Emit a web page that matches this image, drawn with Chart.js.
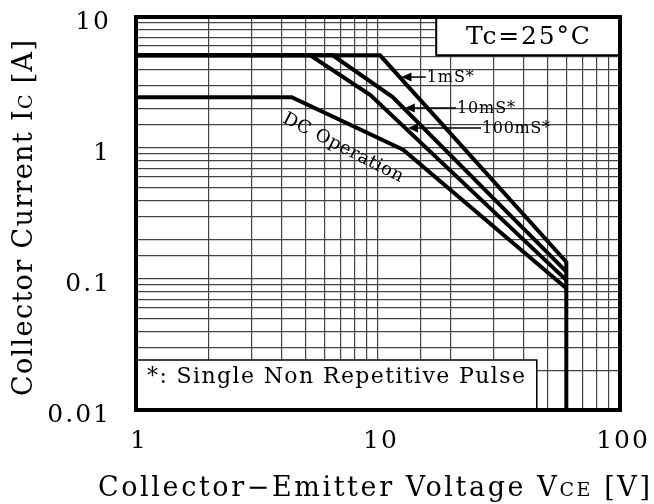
<!DOCTYPE html>
<html>
<head>
<meta charset="utf-8">
<script src="https://cdn.jsdelivr.net/npm/chart.js@4.4.1/dist/chart.umd.min.js"></script>
<style>
  html, body { margin: 0; padding: 0; background: #fff; }
  canvas { display: block; }
</style>
</head>
<body>
<canvas id="soa" width="654" height="504"></canvas>
<script>
const FONT = '"DejaVu Serif", "Liberation Serif", serif';

/* axis ticks */
const xTicks = [1, 10, 100];
const yTicks = [0.01, 0.1, 1, 10];

/* safe operating area curves (VCE in V, IC in A) */
const vce1ms = [1, 10.2, 60, 60];
const ic1ms = [5.1, 5.1, 0.135, 0.01];
const vce10ms = [1, 6.5, 11.5, 60];
const ic10ms = [5.1, 5.1, 2.45, 0.114];
const vce100ms = [1, 5.25, 9.3, 60];
const ic100ms = [5.1, 5.1, 2.54, 0.098];
const vceDC = [1, 4.4, 12.7, 60];
const icDC = [2.44, 2.44, 0.97, 0.085];

const seriesNames = ["1mS*", "10mS*", "100mS*", "DC Operation"];

function pts(xs, ys) {
  return xs.map((x, i) => ({ x: x, y: ys[i] }));
}

/* pulse labels: arrow tip and text start, in chart units */
const pulseNotes = [
  { text: "1mS*", tip: [12.5, 3.48], textX: 15.9, w: 47 },
  { text: "10mS*", tip: [12.9, 2.02], textX: 21.2, w: 58 },
  { text: "100mS*", tip: [13.3, 1.42], textX: 26.9, w: 68 }
];

/* draw text runs, letter spacing given or stretched to a width */
function runs(ctx, parts, x, y, width, spacing) {
  let natural = 0, count = 0;
  parts.forEach(p => {
    ctx.font = p[1] + "px " + FONT;
    ctx.letterSpacing = "0px";
    natural += ctx.measureText(p[0]).width;
    count += p[0].length;
  });
  const ls = width ? (width - natural) / (count - 1) : (spacing || 0);
  let cx = x;
  parts.forEach(p => {
    ctx.font = p[1] + "px " + FONT;
    ctx.letterSpacing = "0px";
    const w = ctx.measureText(p[0]).width;
    ctx.letterSpacing = ls + "px";
    ctx.fillText(p[0], cx, y);
    cx += w + ls * p[0].length;
  });
  ctx.letterSpacing = "0px";
}

function label(ctx, text, size, x, y, width, align, spacing) {
  ctx.font = size + "px " + FONT;
  ctx.letterSpacing = "0px";
  const sp = spacing || 0;
  const w = width || (ctx.measureText(text).width + sp * (text.length - 1));
  let x0 = x;
  if (align === "center") x0 = x - w / 2;
  if (align === "right") x0 = x - w;
  runs(ctx, [[text, size]], x0, y, width, sp);
}

const soaDecor = {
  id: "soaDecor",
  beforeDatasetsDraw(chart) {
    const { ctx, chartArea: a, scales: { x, y } } = chart;
    ctx.save();
    // Tc box
    const tx = x.getPixelForValue(17.4), ty = y.getPixelForValue(5.1);
    ctx.fillStyle = "#fff";
    ctx.fillRect(tx, a.top, a.right - tx, ty - a.top);
    ctx.strokeStyle = "#000";
    ctx.lineWidth = 2;
    ctx.beginPath();
    ctx.moveTo(tx, a.top);
    ctx.lineTo(tx, ty);
    ctx.lineTo(a.right, ty);
    ctx.stroke();
    // note box
    const nx = x.getPixelForValue(45.3), ny = y.getPixelForValue(0.0241);
    ctx.fillRect(a.left, ny, nx - a.left, a.bottom - ny);
    ctx.lineWidth = 1.5;
    ctx.beginPath();
    ctx.moveTo(a.left, ny);
    ctx.lineTo(nx, ny);
    ctx.lineTo(nx, a.bottom);
    ctx.stroke();
    ctx.restore();
  },
  afterDraw(chart) {
    const { ctx, chartArea: a, scales: { x, y } } = chart;
    ctx.save();
    ctx.fillStyle = "#000";
    ctx.strokeStyle = "#000";

    // frame
    ctx.lineWidth = 4;
    ctx.strokeRect(a.left, a.top, a.right - a.left, a.bottom - a.top);

    ctx.textBaseline = "alphabetic";
    // tick labels
    xTicks.forEach(v => label(ctx, String(v), 25, x.getPixelForValue(v) + 2, a.bottom + 38, null, "center", 2));
    yTicks.forEach(v => label(ctx, String(v), 25, 109, y.getPixelForValue(v) + 12, null, "right", 2));

    // axis titles
    runs(ctx, [["Collector\u2212Emitter Voltage V", 27], ["CE", 19], [" [V]", 27]], 98, 496, 552);
    ctx.save();
    ctx.translate(32, 218);
    ctx.rotate(-Math.PI / 2);
    runs(ctx, [["Collector Current I", 27], ["C", 19], [" [A]", 27]], -178, 0, 356);
    ctx.restore();

    // Tc label
    ctx.textBaseline = "middle";
    label(ctx, "Tc=25\u00b0C", 25, 528, 37, 124, "center");

    // pulse note
    label(ctx, "*: Single Non Repetitive Pulse", 22, 147, 377, 378, "left");

    // pulse labels with arrows
    pulseNotes.forEach(n => {
      const px = x.getPixelForValue(n.tip[0]);
      const py = y.getPixelForValue(n.tip[1]);
      const tx = x.getPixelForValue(n.textX);
      ctx.lineWidth = 1.5;
      ctx.beginPath();
      ctx.moveTo(px + 6, py);
      ctx.lineTo(tx - 1, py);
      ctx.stroke();
      ctx.beginPath();
      ctx.moveTo(px, py);
      ctx.lineTo(px + 10, py - 4.5);
      ctx.lineTo(px + 10, py + 4.5);
      ctx.closePath();
      ctx.fill();
      label(ctx, n.text, 16, tx, py + 1, n.w, "left");
    });

    // DC Operation label along the DC line
    ctx.save();
    ctx.translate(343, 148);
    ctx.rotate(27 * Math.PI / 180);
    label(ctx, seriesNames[3], 18, 0, 0, 133, "center");
    ctx.restore();

    ctx.restore();
  }
};

const lineStyle = { borderColor: "#000", borderWidth: 4, pointRadius: 0, fill: false, tension: 0 };

new Chart(document.getElementById("soa"), {
  type: "line",
  data: {
    datasets: [
      Object.assign({ label: seriesNames[0], data: pts(vce1ms, ic1ms) }, lineStyle),
      Object.assign({ label: seriesNames[1], data: pts(vce10ms, ic10ms) }, lineStyle),
      Object.assign({ label: seriesNames[2], data: pts(vce100ms, ic100ms) }, lineStyle),
      Object.assign({ label: seriesNames[3], data: pts(vceDC, icDC) }, lineStyle)
    ]
  },
  options: {
    responsive: false,
    animation: false,
    layout: { padding: { left: 136, right: 34, top: 17, bottom: 94 } },
    plugins: { legend: { display: false }, tooltip: { enabled: false } },
    scales: {
      x: {
        type: "logarithmic", min: 1, max: 100,
        ticks: { display: false },
        grid: { color: "#444", lineWidth: 1.2, drawTicks: false },
        border: { display: false }
      },
      y: {
        type: "logarithmic", min: 0.01, max: 10,
        ticks: { display: false },
        grid: { color: "#444", lineWidth: 1.2, drawTicks: false },
        border: { display: false }
      }
    }
  },
  plugins: [soaDecor]
});
</script>
</body>
</html>
